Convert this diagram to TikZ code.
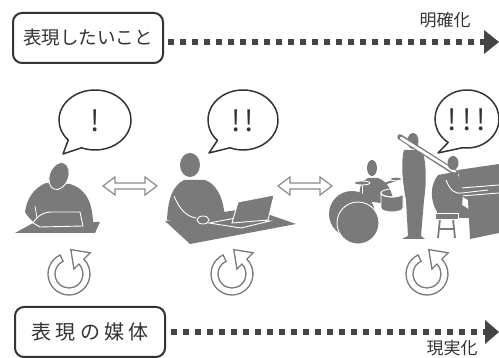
\documentclass[tikz,border=0pt]{standalone}
\usepackage{fontspec}
\setmainfont{Noto Sans CJK JP}
\definecolor{ink}{HTML}{333333}
\definecolor{ink2}{HTML}{444444}
\definecolor{silc}{HTML}{7A7A7A}
\definecolor{light}{HTML}{8A8A8A}
\begin{document}
\begin{tikzpicture}[x=1pt,y=-1pt,
  box/.style={draw=ink, line width=2pt, rounded corners=9pt, fill=white, text=ink,
    inner sep=0pt, minimum height=50pt, minimum width=150pt},
  dotline/.style={draw=ink2, line width=6pt, dash pattern=on 6pt off 6pt},
  tiplbl/.style={text=ink, font=\fontsize{17}{17}\selectfont},
  bubble/.style={draw=ink, line width=1.5pt, fill=white, line join=round},
  bang/.style={text=ink, font=\fontsize{29}{29}\selectfont},
  xchg/.style={draw=light, line width=1.2pt, fill=white},
  ring/.style={draw=silc, line width=1.3pt, fill=white},
  silcut/.style={fill=silc, draw=white, line width=0.9pt},
  spin/.pic={
    \filldraw[ring] (-115:21) arc[start angle=-115, end angle=-405, radius=21]
      -- (-45:30) -- (1.8,-24.4) -- (-45:7) -- (-45:14)
      arc[start angle=-405, end angle=-115, radius=14] -- cycle;
  },
  swaparrow/.pic={
    \filldraw[xchg] (-27,0) -- (-15,-9) -- (-15,-3) -- (15,-3) -- (15,-9) -- (27,0)
      -- (15,9) -- (15,3) -- (-15,3) -- (-15,9) -- cycle;
  },
]
\useasboundingbox (0,0) rectangle (499,358);

% ---- top: what to express, and the arrow of clarification
\node[box, font=\fontsize{18.5}{18.5}\selectfont] (want) at (88,38) {表現したいこと};
\coordinate (topend) at (484,42);
\draw[dotline] ([xshift=4pt,yshift=-4pt]want.east) -- (topend);
\fill[ink2] (topend) ++(0,-12) -- ++(15,12) -- ++(-15,12) -- cycle;
\node[tiplbl] (clar) at (445,20) {明確化};

% ---- bottom: the medium, and the arrow of realisation
\node[box, font=\fontsize{20}{20}\selectfont] (media) at (90,332)
  {表\hspace{4.5pt}現\hspace{4.5pt}の\hspace{4.5pt}媒\hspace{4.5pt}体};
\coordinate (botend) at (485,332);
\draw[dotline] ([xshift=5pt]media.east) -- (botend);
\fill[ink2] (botend) ++(0,-12) -- ++(14,12) -- ++(-14,12) -- cycle;
\node[tiplbl] (real) at (452,348) {現実化};

% ---- speech bubbles
\filldraw[bubble, shift={(95,120)}] (138:36 and 30)
  arc[start angle=138, end angle=472, x radius=36, y radius=30] -- (-32,34) -- cycle;
\node[bang] (b1) at (95,121) {!};
\filldraw[bubble, shift={(243,120)}] (137:35 and 30)
  arc[start angle=137, end angle=472, x radius=35, y radius=30] -- (-34,33) -- cycle;
\node[bang] (b2) at (243,121) {!\hspace{4pt}!};
\filldraw[bubble, shift={(467,119)}] (126:32 and 29)
  arc[start angle=126, end angle=458, x radius=32, y radius=29] -- (-29,34) -- cycle;
\node[bang] (b3) at (467,120) {!\hspace{5pt}!\hspace{5pt}!};

% ---- exchange arrows
\pic at (130,186) {swaparrow};
\pic at (305,186) {swaparrow};

% ---- figure 1: sketching on paper
\fill[silc] (15,233) -- (35,222) -- (100,222) -- (95,233) -- cycle;
\fill[silc] (25,212) .. controls (27,198) and (34,188) .. (46,183) -- (70,184)
  .. controls (83,188) and (90,198) .. (92,212) -- (94,228) -- (40,228)
  .. controls (34,222) and (28,218) .. (25,212) -- cycle;
\filldraw[silcut, rotate around={-20:(59,176)}] (59,176) ellipse [x radius=9.5, y radius=14];
\filldraw[silcut] (33,223) .. controls (38,215) and (44,212) .. (52,212)
  -- (80,212) -- (83,226) -- (40,227) -- cycle;
\draw[white, line width=0.8pt] (35,206) -- (37,218);

% ---- figure 2: working at a laptop
\fill[silc] (165,221) -- (250,208) -- (296,224) -- (190,244) -- cycle;
\fill[silc] (167,220) .. controls (168,200) and (172,186) .. (184,180) -- (205,180)
  .. controls (216,184) and (222,196) .. (224,210) -- (226,220) -- cycle;
\fill[silc] (190,165) ellipse [x radius=10, y radius=12];
\draw[white, line width=0.9pt] (174,196) .. controls (180,210) and (186,216) .. (196,218);
\filldraw[silcut] (209,223) -- (236,218) -- (270,221) -- (241,228) -- cycle;
\filldraw[silcut] (203,220) ellipse [x radius=6, y radius=4];
\filldraw[silcut] (232,223) -- (238,202) -- (274,195) -- (268,220) -- cycle;

% ---- figure 3: the band
% drummer
\fill[silc] (360,200) .. controls (358,188) and (362,180) .. (368,178) -- (378,178)
  .. controls (388,182) and (392,190) .. (394,205) -- cycle;
\fill[silc] (372,168) ellipse [x radius=5, y radius=8];
\draw[silc, line width=2pt] (364,184) -- (372,188) (384,184) -- (396,180);
\filldraw[silcut] (362,183) ellipse [x radius=8, y radius=2];
\filldraw[silcut] (396,179) ellipse [x radius=6, y radius=1.8];
\draw[white, line width=0.8pt] (362,185) -- (362,196) (396,181) -- (396,192);
% tom and stand
\filldraw[silcut] (381,193) -- (381,208) arc[start angle=180, end angle=0, x radius=11, y radius=4]
  -- (403,193) arc[start angle=0, end angle=180, x radius=11, y radius=4] -- cycle;
\draw[white, line width=0.9pt] (392,193) ellipse [x radius=11, y radius=4];
\draw[white, line width=0.8pt] (392,212) -- (392,234) (392,230) -- (384,238) (392,230) -- (400,238);
% bass drum
\fill[silc] (352,214) circle [radius=23];
\filldraw[silcut] (358,223) circle [radius=21];
% trombonist
\fill[silc] (404,150) .. controls (401,160) and (402,180) .. (406,200) -- (408,236)
  -- (402,239) -- (425,239) -- (421,236) -- (424,200)
  .. controls (427,180) and (426,160) .. (422,150) -- cycle;
\fill[silc] (413,141) ellipse [x radius=5.5, y radius=8];
\draw[silc, line width=5.5pt, line cap=round] (400,137) -- (456,173);
\draw[white, line width=2.8pt, line cap=round] (401,138) -- (455,172);
\fill[silc] (418,156) ellipse [x radius=4, y radius=5];
% piano
\fill[silc] (458,170) -- (499,164) -- (499,233) -- (470,239) -- (468,200)
  -- (461,196) -- (461,188) -- cycle;
\draw[white, line width=0.9pt] (461,188) -- (499,185) (461,196) -- (499,193);
% pianist
\fill[silc] (437,212) .. controls (430,200) and (430,185) .. (438,175) -- (455,172)
  .. controls (462,178) and (464,190) .. (462,205) -- (470,210) -- (470,218)
  -- (437,218) -- cycle;
\fill[silc] (453,163) ellipse [x radius=5.5, y radius=7];
\draw[white, line width=0.9pt] (446,180) .. controls (450,190) and (454,194) .. (462,193) -- (488,190);
% stool
\draw[white, line width=3.6pt] (440,219) -- (438,238) (453,219) -- (455,238) (439,229) -- (454,229);
\draw[silc, line width=1.8pt] (440,219) -- (438,238) (453,219) -- (455,238) (439,229) -- (454,229);
\filldraw[silcut] (435,213) rectangle (458,219);

% ---- cycles of trial under each stage
\pic at (69,274) {spin};
\pic at (232,274) {spin};
\pic at (427,274) {spin};
\end{tikzpicture}
\end{document}
